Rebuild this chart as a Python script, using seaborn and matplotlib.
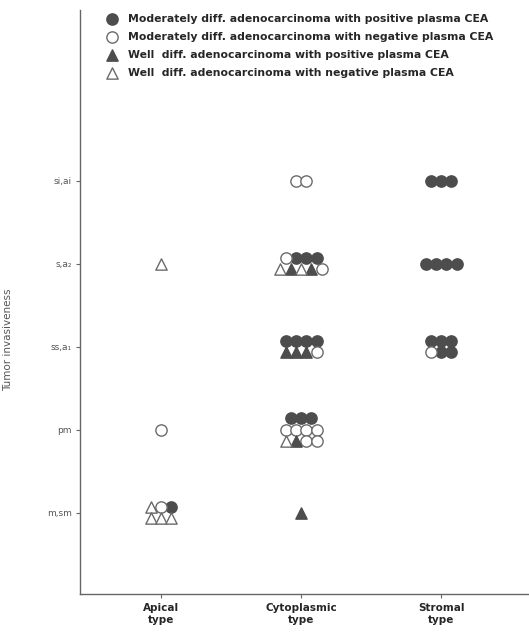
import math
import pandas as pd
import seaborn as sns
import matplotlib.pyplot as plt

# tumour types (x) and invasiveness levels (y, bottom to top)
types = ["Apical\ntype", "Cytoplasmic\ntype", "Stromal\ntype"]
levels = ["m,sm", "pm", "ss,a\u2081", "s,a\u2082", "si,ai"]

# one letter per case, read row by row from each cluster
# F: moderately diff. CEA+, O: moderately diff. CEA-, T: well diff. CEA+, V: well diff. CEA-
apical_cases = ["VOFVVV", "O", "", "V", ""]
cytoplasmic_cases = ["T", "FFFOOOOVTOO", "FFFFTTTO", "OFFFVTVTO", "OO"]
stromal_cases = ["", "", "FFFOFF", "FFFF", "FFF"]

group_labels = {
    "F": "Moderately diff. adenocarcinoma with positive plasma CEA",
    "O": "Moderately diff. adenocarcinoma with negative plasma CEA",
    "T": "Well  diff. adenocarcinoma with positive plasma CEA",
    "V": "Well  diff. adenocarcinoma with negative plasma CEA",
}
group_style = {
    "F": dict(marker="o", color="#4d4d4d", edgecolor="#4d4d4d"),
    "O": dict(marker="o", color="white", edgecolor="#6a6a6a"),
    "T": dict(marker="^", color="#4d4d4d", edgecolor="#4d4d4d"),
    "V": dict(marker="^", color="white", edgecolor="#6a6a6a"),
}


def row_sizes(n):
    nrows = math.ceil(n / 5)
    base, extra = divmod(n, nrows)
    return [base] * (nrows - extra) + [base + 1] * extra


# lay each cluster out as a small block of touching markers
dx, dy = 0.074, 0.135
rows = []
for ti, cells in enumerate([apical_cases, cytoplasmic_cases, stromal_cases]):
    for li, codes in enumerate(cells):
        if not codes:
            continue
        sizes = row_sizes(len(codes))
        k = 0
        for r, size in enumerate(sizes):
            for j in range(size):
                rows.append({
                    "x": ti + (j - (size - 1) / 2) * dx,
                    "y": li + ((len(sizes) - 1) / 2 - r) * dy,
                    "group": codes[k],
                })
                k += 1
df = pd.DataFrame(rows)

sns.set_style("ticks")
fig = plt.figure(figsize=(5.29, 6.33), dpi=100)
ax = fig.add_axes([0.151, 0.062, 0.847, 0.922])

for code in "FOTV":
    sub = df[df["group"] == code]
    st = group_style[code]
    sns.scatterplot(data=sub, x="x", y="y", marker=st["marker"], s=66,
                    color=st["color"], edgecolor=st["edgecolor"], linewidth=1.0,
                    label=group_labels[code], ax=ax, zorder=3)

ax.set_xlim(-0.58, 2.62)
ax.set_ylim(-0.98, 6.06)
ax.set_xticks(range(len(types)))
ax.set_xticklabels(types, fontsize=7.5, fontweight="bold")
ax.set_yticks(range(len(levels)))
ax.set_yticklabels(levels, fontsize=6.5, color="#555555")
ax.set_xlabel("")
ax.set_ylabel("Tumor invasiveness", fontsize=7.5, color="#555555")
ax.yaxis.set_label_coords(-0.15, 0.435)
ax.tick_params(axis="both", length=3, width=0.8, color="#666666", pad=3)
ax.tick_params(axis="x", pad=4)
sns.despine(ax=ax)
for side in ["left", "bottom"]:
    ax.spines[side].set_color("#666666")
    ax.spines[side].set_linewidth(1.0)

leg = ax.legend(loc="upper left", bbox_to_anchor=(0.045, 1.005), frameon=False,
                prop={"size": 7.8, "weight": "bold"}, labelspacing=0.75,
                handletextpad=1.0, handlelength=1.0, borderaxespad=0.2)

fig.savefig("out.png", dpi=100, facecolor="white")
